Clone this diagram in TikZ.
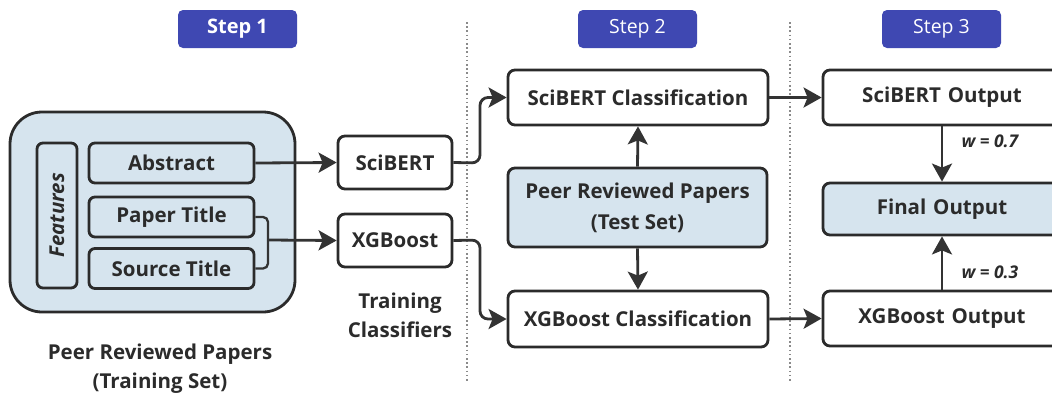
\documentclass[tikz,border=0pt]{standalone}
\usepackage{fontspec}
\setmainfont{Open Sans}
\usetikzlibrary{arrows.meta}
\definecolor{ink}{HTML}{2B2B2B}
\definecolor{lineink}{HTML}{333333}
\definecolor{boxblue}{HTML}{D6E4EE}
\definecolor{badge}{HTML}{3F48B2}
\definecolor{dotgray}{HTML}{8A8A8A}
\begin{document}
\begin{tikzpicture}[x=1pt,y=-1pt,
  every node/.style={text=ink,font=\fontsize{20.5}{29}\selectfont\bfseries},
  box/.style={draw=ink,line width=2.8pt,rounded corners=7pt,fill=white,inner sep=0pt},
  bluebox/.style={box,fill=boxblue},
  stepbadge/.style={fill=badge,rounded corners=5pt,minimum width=119pt,minimum height=38pt,text=white,inner sep=0pt},
  conn/.style={draw=lineink,line width=2.8pt,-{Stealth[length=18pt,width=20pt,inset=4pt]}},
  sep/.style={draw=dotgray,line width=1.8pt,dash pattern=on 1.6pt off 2.6pt},
  wlabel/.style={font=\fontsize{17.5}{20}\selectfont\bfseries\itshape,anchor=west}]
\useasboundingbox (0,0) rectangle (1052,394);
\clip (0,0) rectangle (1052,394);
% separators
\draw[sep] (467,22) -- (467,382);
\draw[sep] (790,22) -- (790,382);
% step badges
\node[stepbadge,font=\fontsize{20}{24}\selectfont\bfseries] (s1) at (237.5,29) {Step 1};
\node[stepbadge,font=\fontsize{19.5}{24}\selectfont] (s2) at (637.5,29) {Step 2};
\node[stepbadge,font=\fontsize{19.5}{24}\selectfont] (s3) at (941.5,29) {Step 3};
% step 1 group
\node[bluebox,rounded corners=32pt,minimum width=285pt,minimum height=200pt] (train) at (152.5,212) {};
\node[bluebox,rounded corners=6pt,minimum width=40pt,minimum height=145pt] (feat) at (57,215.5) {};
\node[rotate=90,font=\fontsize{20.5}{24}\selectfont\bfseries\itshape] (featt) at (feat.center) {Features};
\node[bluebox,rounded corners=6pt,minimum width=165pt,minimum height=40pt] (abs) at (171.5,163) {Abstract};
\node[bluebox,rounded corners=6pt,minimum width=165pt,minimum height=40pt] (pt) at (171.5,217) {Paper Title};
\node[bluebox,rounded corners=6pt,minimum width=165pt,minimum height=40pt] (st) at (171.5,268.5) {Source Title};
\node[align=center] (trainlbl) at (160,369) {Peer Reviewed Papers\\(Training Set)};
% classifiers
\node[box,minimum width=114pt,minimum height=53pt] (sb) at (395,162.5) {SciBERT};
\node[box,minimum width=114pt,minimum height=53pt] (xg) at (395,240.5) {XGBoost};
\node[align=center] (tc) at (400,315) {Training\\Classifiers};
% step 2
\node[box,minimum width=260pt,minimum height=55pt] (sbc) at (638,97.5) {SciBERT Classification};
\node[bluebox,minimum width=259pt,minimum height=79pt,align=center,font=\fontsize{20.5}{31}\selectfont\bfseries] (test) at (637.5,207.5) {Peer Reviewed Papers\\(Test Set)};
\node[box,minimum width=260pt,minimum height=56pt] (xgc) at (638,319) {XGBoost Classification};
% step 3
\node[box,minimum width=238pt,minimum height=55pt,text width=238pt,align=center] (sbo) at (942,97.5) {SciBERT Output};
\node[bluebox,minimum width=238pt,minimum height=52pt,text width=238pt,align=center] (fin) at (942,209) {Final Output};
\node[box,minimum width=238pt,minimum height=55pt,text width=238pt,align=center] (xgo) at (942,318.5) {XGBoost Output};
\node[wlabel] (w7) at (958,141) {w = 0.7};
\node[wlabel] (w3) at (958,272) {w = 0.3};
% connectors
\coordinate (j) at (268,240);
\draw[conn] (abs.east) -- (sb.west);
\draw[draw=lineink,line width=2.3pt,rounded corners=5pt] (pt.east) -| (j);
\draw[draw=lineink,line width=2.3pt,rounded corners=5pt] (st.east) -| (j);
\draw[conn] (j) -- (xg.west);
\coordinate (sbk) at (480,163);
\coordinate (xgk) at (480,240);
\draw[conn,rounded corners=8pt] (sb.east) -- (sbk) |- (sbc.west);
\draw[conn,rounded corners=8pt] (xg.east) -- (xgk) |- (xgc.west);
\draw[conn] (test.north) -- (sbc.south);
\draw[conn] (test.south) -- (xgc.north);
\draw[conn] (sbc.east) -- (sbo.west);
\draw[conn] (xgc.east) -- (xgo.west);
\draw[conn] (sbo.south) -- (fin.north);
\draw[conn] (xgo.north) -- (fin.south);
\end{tikzpicture}
\end{document}
